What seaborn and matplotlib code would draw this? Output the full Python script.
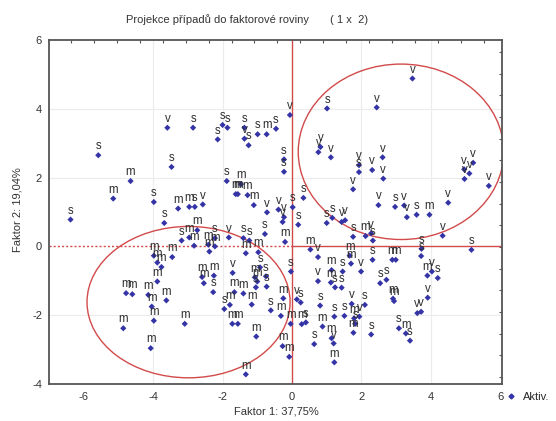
import matplotlib
matplotlib.use("Agg")
import matplotlib.pyplot as plt
from matplotlib.patches import Ellipse
from matplotlib.lines import Line2D
import seaborn as sns
import pandas as pd

sns.set_style("white")
plt.rcParams['font.family'] = ['Liberation Sans', 'DejaVu Sans']
plt.rcParams['axes.unicode_minus'] = False

# ---- data: case labels and factor scores ----
labels = [
    's','v','s','s','m','m','s','m','m','s','v','s','s','s','s','s','s','v','s','s',
    'm','s','v','s','s','s','m','m','m','m','m','v','v','v','s','s',
    's','v','v','v','v','v','v','s','v','v','v','v','v','s','v','v','s','m','v',
    'v','v','v','v','v',
    's','s','v','v','s','m','v','s','v','s','s','s','m','v','m','m','s','m','m',
    'm','s','v','v','m','s','s','s','s','m','v','s','m','m','v','v','v','s','m','s',
    's','v','s','s','v','m','s','m','s','s','m','m','v','s','m','m','s','v','s',
    'm','s','m','m','s','m','m','m','v','s','s','m','m','s','m','v','s',
    'm','m','m','m','m','m','m','m','m','m','m','m','m','m',
    'm','m','m','s','v','m','m','m','s','m','m','m','m','m','s','m','m','m','m','m',
    's','s','m','m','s','s','s',
]
factor1 = [
    -5.58,-3.59,-2.85,-3.47,-4.65,-5.15,-3.98,-3.28,-2.96,-2.80,-2.57,-6.38,-3.68,-2.00,-1.86,-2.14,-1.37,-1.37,-1.25,-0.99,
    -0.73,-0.46,-0.06,-0.23,-0.23,-1.88,-1.47,-1.62,-1.56,-1.28,-1.10,-0.72,-0.39,-0.23,0.02,0.33,
    1.01,2.44,3.47,0.82,0.76,1.12,1.93,1.93,2.31,2.61,2.63,1.76,2.49,2.97,3.23,3.31,3.59,3.96,4.50,
    4.96,4.97,5.11,5.22,5.67,
    1.00,1.16,1.43,1.53,1.76,2.12,2.28,2.33,4.34,3.73,3.72,5.17,0.53,0.75,1.66,1.70,2.32,2.89,2.99,
    1.14,1.46,1.99,0.75,1.12,1.24,1.43,2.54,2.72,3.90,4.03,4.20,2.91,2.94,3.91,3.61,3.72,3.08,3.28,3.40,
    2.28,1.72,2.10,1.51,1.94,1.79,1.82,1.77,0.81,1.22,0.88,1.14,1.20,0.64,1.22,0.28,0.40,0.14,0.25,
    -2.73,-3.18,-2.96,-2.82,-2.22,-2.41,-2.38,-2.22,-1.82,-1.40,-1.23,-1.33,-0.97,-0.78,-0.20,-0.27,0.18,
    -3.98,-3.88,-3.76,-3.45,-3.88,-4.78,-4.60,-4.14,-4.04,-3.62,-3.98,-4.86,-3.09,-4.07,
    -2.59,-2.54,-2.25,-2.27,-1.71,-1.66,-1.40,-1.16,-1.95,-1.79,-1.72,-1.56,-1.03,-1.33,-0.61,-0.32,-0.25,-0.04,-0.27,-0.08,
    -0.92,-0.03,-1.07,-1.00,-0.75,-1.04,-0.73,
]
factor2 = [
    2.65,3.45,3.45,2.31,1.90,1.39,1.29,1.10,1.15,1.15,1.22,0.78,0.68,3.53,3.45,3.11,3.45,3.13,2.94,3.26,
    3.26,3.42,3.82,2.53,2.17,1.90,1.81,1.52,1.52,1.49,1.20,0.99,1.07,0.85,1.14,1.41,
    4.01,4.04,4.88,2.89,2.74,2.59,2.36,2.16,2.22,2.59,1.97,1.66,1.20,1.15,1.19,0.85,0.92,0.92,1.27,
    2.24,1.96,2.12,2.43,1.76,
    0.68,0.83,0.71,0.76,0.28,0.30,0.38,0.17,0.31,-0.07,-0.28,-0.10,-0.09,-0.31,-0.27,-0.50,-0.39,-0.39,-0.39,
    -0.69,-0.73,-0.73,-1.01,-1.05,-1.19,-1.20,-1.07,-0.97,-0.85,-0.73,-0.92,-1.52,-1.59,-1.49,-1.94,-1.90,-2.38,-2.53,-2.74,
    -2.56,-1.67,-1.70,-2.02,-2.04,-2.09,-2.25,-2.51,-1.72,-2.04,-2.33,-2.67,-2.82,-2.84,-3.37,-2.26,-2.21,-1.54,-1.63,
    0.47,0.17,0.26,0.02,0.24,0.05,-0.15,0.00,0.26,0.24,0.17,-0.20,-0.17,0.36,0.13,0.71,0.63,
    -0.27,-0.47,-0.60,-0.31,-1.02,-1.36,-1.39,-1.41,-1.75,-1.57,-2.16,-2.38,-2.25,-2.96,
    -0.89,-1.07,-0.85,-1.33,-0.77,-1.33,-1.37,-1.69,-1.82,-1.70,-2.25,-2.25,-2.62,-3.72,-1.86,-2.02,-1.51,-2.25,-2.90,-3.21,
    -0.61,-0.73,-0.90,-1.02,-0.87,-1.19,-1.17,
]
x_ticks = [-6, -4, -2, 0, 2, 4, 6]
y_ticks = [-4, -2, 0, 2, 4, 6]
title_main = "Projekce případů do faktorové roviny"
title_dims = "( 1 x  2)"
x_label = "Faktor 1: 37,75%"
y_label = "Faktor 2: 19,04%"
legend_label = "Aktiv."

n = min(len(labels), len(factor1), len(factor2))
df = pd.DataFrame({"f1": factor1[:n], "f2": factor2[:n], "lab": labels[:n]})

W, H = 556, 421
fig = plt.figure(figsize=(W / 100, H / 100), dpi=100)
ax = fig.add_axes([49 / W, 1 - 384 / H, (502 - 49) / W, (384 - 40) / H])

ax.set_xlim(-7, 6.05)
ax.set_ylim(-4, 6)

# faint grid
for gx in [-4, -2, 2, 4]:
    ax.axvline(gx, color='#ececec', lw=0.8, zorder=0)
for gy in [-2, 2, 4]:
    ax.axhline(gy, color='#ececec', lw=0.8, zorder=0)

red = '#d24a4a'
ax.axvline(0, color=red, lw=1.0, zorder=1)
ax.plot([0, 6.05], [0, 0], color=red, lw=1.0, zorder=1)
ax.plot([-7, 0], [0, 0], color=red, lw=1.0, ls=(0, (1.5, 1.5)), zorder=1)

ax.add_patch(Ellipse((3.14, 2.75), 5.92, 5.10, fill=False, ec=red, lw=1.0, zorder=1))
ax.add_patch(Ellipse((-2.98, -1.62), 5.85, 4.40, fill=False, ec=red, lw=1.0, zorder=1))

mcol = '#3434a6'
sns.scatterplot(data=df, x="f1", y="f2", marker='D', s=10, color=mcol,
                edgecolor='none', ax=ax, zorder=3, legend=False)

for xv, yv, lb in zip(df.f1, df.f2, df.lab):
    ax.annotate(lb, (xv, yv), xytext=(0, 2.0), textcoords='offset points',
                ha='center', va='bottom', fontsize=8.3, color='#2e2e2e', zorder=4)

ax.set_xticks(x_ticks)
ax.set_yticks(y_ticks)
ax.set_xticks([-6, -5, -4, -3, -2, -1, 0, 1, 2, 3, 4, 5], minor=True)
ax.set_yticks([-3, -1, 1, 3, 5], minor=True)
ax.tick_params(axis='both', which='both', direction='in', length=3, width=0.8,
               colors='#555555', labelsize=8, labelcolor='#333333')
ax.tick_params(axis='x', pad=6)
ax.tick_params(axis='y', pad=5)
ax.set_xlabel("")
ax.set_ylabel("")

# secondary tick marks on top and right
sec_x = ax.secondary_xaxis('top')
sec_x.set_xticks([-6.36 + 0.66 * i for i in range(19)])
sec_x.set_xticklabels([])
sec_x.tick_params(direction='in', length=2.5, width=0.8, colors='#555555')
sec_y = ax.secondary_yaxis('right')
sec_y.set_yticks([-3.8 + 0.63 * i for i in range(16)])
sec_y.set_yticklabels([])
sec_y.tick_params(direction='in', length=2.5, width=0.8, colors='#555555')

for sp in ax.spines.values():
    sp.set_color('#555555')
    sp.set_linewidth(1.3)
    sp.set_visible(True)
for sp in list(sec_x.spines.values()) + list(sec_y.spines.values()):
    sp.set_visible(False)

fig.text(126 / W, 1 - 20 / H, title_main, ha='left', va='center', fontsize=8, color='#333333')
fig.text(330 / W, 1 - 20 / H, title_dims, ha='left', va='center', fontsize=8, color='#333333')
fig.text(276 / W, 1 - 411 / H, x_label, ha='center', va='center', fontsize=8, color='#333333')
fig.text(18 / W, 1 - 210 / H, y_label, ha='center', va='center', rotation=90, fontsize=8, color='#333333')

handle = Line2D([], [], marker='D', ls='none', color=mcol, markersize=2.5)
ax.legend([handle], [legend_label], loc='center left', bbox_to_anchor=(505 / W, 1 - 397 / H),
          bbox_transform=fig.transFigure, frameon=False, fontsize=8, handletextpad=0.6,
          handlelength=1.0, borderaxespad=0, borderpad=0)

fig.savefig("out.png", dpi=100, facecolor='white')
